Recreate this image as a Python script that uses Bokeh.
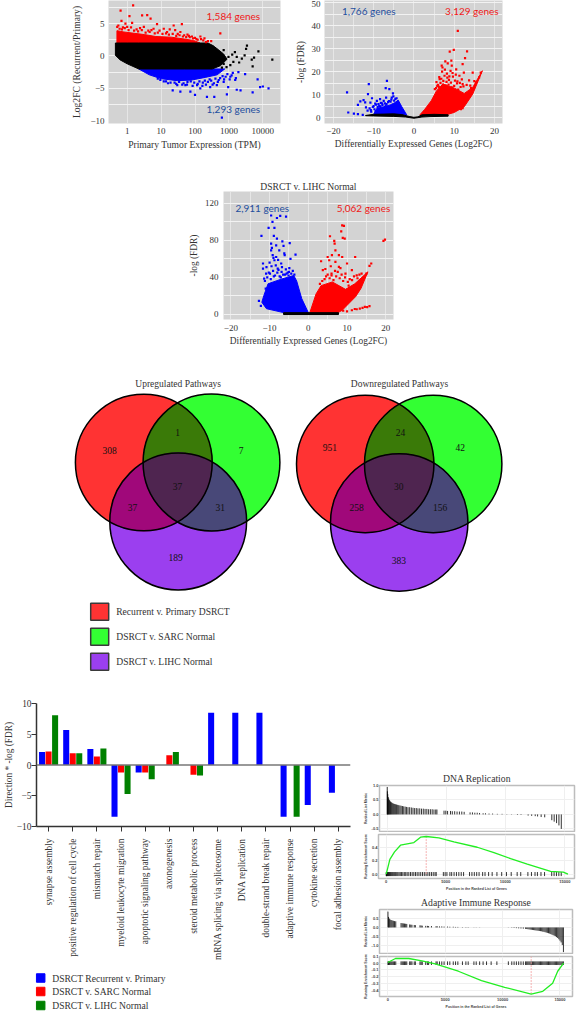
import numpy as np
from bokeh.plotting import figure
from bokeh.layouts import column, row
from bokeh.models import Range1d, FixedTicker, NumeralTickFormatter, FactorRange, Span, Title
from bokeh.core.properties import value
from bokeh.embed import file_html
from bokeh.resources import INLINE
from bokeh.transform import dodge

SERIF = "Liberation Serif"
SANS = "Lato"
TXT = "#333333"
GREY = "#D3D3D3"

# ---------- Panel A: expression vs fold change
a_black_mass_tpm = [0.45, 0.45, 0.62, 1.0, 2.2, 10, 100, 240, 340, 480, 700, 880, 560, 320, 150]
a_black_mass_fc = [0.1, 2.0, 2.0, 2.0, 2.0, 2.0, 2.0, 2.0, 1.6, 1.0, 0.3, -0.5, -1.5, -2.0, -2.0]
a_black_low_tpm = [150, 50, 10, 2.2, 1.0, 0.62, 0.45]
a_black_low_fc = [-2.0, -2.0, -2.0, -2.0, -1.2, -0.6, 0.1]
a_red_mass_tpm = [0.5, 0.5, 0.8, 1.6, 3.2, 7, 20, 50, 90, 140, 90, 0.5]
a_red_mass_fc = [2.0, 3.9, 3.7, 3.5, 3.3, 3.0, 2.9, 2.6, 2.4, 2.0, 2.0, 2.0]
a_blue_mass_tpm = [2.2, 4.5, 10, 30, 80, 200, 450, 750, 600, 200, 50, 10]
a_blue_mass_fc = [-2.0, -2.9, -3.5, -3.8, -3.7, -3.3, -2.9, -2.0, -2.0, -2.0, -2.0, -2.0]
a_red_tpm = [0.64, 1.5, 1.17, 2.76, 3.9, 4.9, 0.51, 0.68, 0.89, 1.4, 7.6, 23.5, 41, 557, 144, 210, 81, 26, 37, 12, 6, 3.1, 0.55, 0.75, 1.0, 1.9, 2.4, 4.2, 5.2, 9, 15, 18, 31, 48, 60, 70, 100, 120, 175, 240,
             0.6, 0.7, 0.85, 1.1, 1.3, 1.6, 2.1, 2.7, 3.5, 4.6, 6.5, 8, 11, 14, 17, 22, 28, 35, 44, 55, 66, 88, 110, 150, 190, 300]
a_red_fc = [7.0, 7.8, 6.15, 6.25, 6.3, 5.75, 4.5, 5.4, 5.0, 5.1, 4.9, 4.7, 4.9, 3.5, 3.0, 2.15, 3.0, 4.0, 3.7, 4.2, 4.2, 4.5, 4.7, 4.4, 4.5, 4.1, 4.3, 3.9, 4.0, 3.9, 3.7, 4.1, 3.4, 3.2, 3.3, 2.9, 2.8, 2.5, 2.4, 2.3,
            4.2, 4.1, 4.3, 4.0, 4.4, 3.9, 3.8, 4.0, 3.6, 3.7, 3.5, 3.6, 3.4, 3.5, 3.3, 3.4, 3.1, 3.2, 3.0, 2.9, 3.1, 2.7, 2.6, 2.6, 2.7, 2.3]
a_blue_tpm = [620, 14700, 8300, 10000, 7000, 5000, 3000, 2200, 1700, 870, 370, 225, 100, 73, 37, 22, 143, 280, 440, 700, 1100, 1530, 52, 30, 12, 16, 25, 42, 60, 85, 120, 170, 210, 300, 360, 500, 800, 950, 1300, 1900,
              8, 9.5, 14, 19, 28, 34, 46, 58, 75, 95, 115, 135, 165, 195, 240, 270, 330, 400, 470, 550, 650, 720, 900, 1050, 1200, 1600]
a_blue_fc = [-9.5, -5.0, -4.8, -4.7, -3.6, -5.6, -2.8, -5.3, -5.2, -5.9, -6.3, -6.3, -6.0, -5.5, -5.5, -5.3, -5.0, -4.8, -4.5, -4.0, -3.2, -3.7, -4.5, -4.5, -3.9, -4.2, -4.1, -4.4, -4.0, -4.6, -4.3, -4.1, -4.4, -3.8, -4.2, -3.7, -3.2, -4.8, -2.6, -2.5,
             -3.5, -3.7, -3.9, -4.1, -4.3, -4.0, -4.2, -4.4, -3.9, -4.1, -4.5, -3.9, -4.6, -3.8, -4.0, -3.6, -4.4, -3.5, -4.0, -3.4, -3.1, -3.6, -2.8, -3.6, -3.0, -3.4]
a_black_tpm = [19000, 7400, 3400, 3200, 5500, 4700, 5000, 2400, 1500, 1350, 970, 700, 500, 1700, 1100, 700, 400, 350, 250, 300, 180, 1250, 850, 620, 2000, 2900]
a_black_fc = [-0.55, 0.7, 1.6, 1.1, -0.25, -0.55, -1.6, -0.4, 0.6, -0.9, -0.15, 0.9, 0.35, -0.15, -1.4, -1.2, -1.4, -0.7, -1.2, 0.6, 1.5, 0.2, -1.7, -1.8, -1.0, 0.1]

# ---------- Panel B: volcano DSRCT v. SARC
b_black_x = [-12, -10, -5, -3, -1, 0, 1, 2, 5, 8.5, 8.5, 4, 2, 0, -2, -5, -10, -12]
b_black_y = [0.9, 1.4, 1.6, 1.3, 0.4, 0.1, 0.3, 1.2, 1.4, 1.2, 0.6, 0.4, 0.2, -0.3, 0.2, 0.5, 0.7, 0.8]
b_blue_mass_x = [-10, -9.2, -7.5, -5.9, -4.7, -3.9, -3, -1.8, -3, -6, -10]
b_blue_mass_y = [1.4, 4, 4.7, 5.5, 6.5, 7.6, 4.7, 1.2, 1.2, 1.4, 1.4]
b_red_mass_x = [1.5, 2.7, 4.3, 5.6, 7.2, 10.1, 12.5, 14.6, 17, 14.6, 12.5, 10, 7.6, 4]
b_red_mass_y = [1.2, 3.6, 7.3, 11.6, 14.6, 12.8, 10.5, 13.1, 20.4, 10.2, 4.7, 2.2, 1.0, 1.2]
b_blue_x = [-16.6, -16.3, -14.9, -13.9, -13.9, -12.5, -11.2, -11.4, -10.4, -11.9, -12.7, -6.7, -7, -6.1, -5.2, -5.5, -6.9, -9.2, -10, -11, -8.4, -7.5, -8.8, -10.8, -5.1, -4.6, -6.2, -7.9, -9.6, -12.1, -13.3,
            -10.7, -10.2, -9.8, -9.4, -9, -8.6, -8.2, -7.8, -7.2, -6.8, -6.4, -5.8, -4.9, -4.3, -11.5, -10.6, -9.5, -8.3, -7, -5.6]
b_blue_y = [11, 2.2, 1.7, 1.5, 5.5, 7.6, 14.6, 10.2, 8.4, 4.4, 1.2, 16, 12.8, 12.4, 10.5, 8.7, 8.7, 7.3, 5, 4, 8, 7.3, 5.8, 6.5, 9.2, 8.1, 7.2, 6.2, 6.1, 6.6, 7,
            3.2, 4.6, 3.6, 5.6, 4.5, 5.1, 6.4, 5.4, 6.2, 5.9, 6.7, 6.9, 7.4, 8.4, 3, 2.6, 2.8, 4.9, 5.2, 7.8]
b_red_x = [10.9, 9.9, 8.9, 13.2, 12.7, 7.8, 8.4, 9.4, 12.1, 10.5, 14.6, 12.4, 11.3, 7, 7.6, 9.7, 6.4, 16.6, 16.2, 15.4, 14.2, 12.1, 10, 11.7, 8.9, 12.1, 6, 6.6, 7.3, 8.1, 8.7, 9.2, 10.2, 11, 5.5, 6.2, 7.2, 7.9, 8.6, 9.4,
           5.2, 5.8, 6.3, 6.8, 7.1, 7.7, 8.2, 8.8, 9.1, 9.6, 10.4, 10.8, 11.4, 11.9, 12.3, 13.1, 13.7, 14, 15, 5.6, 6.9, 8.3, 9.3, 10.7, 11.6]
b_red_y = [37.8, 29.5, 28.7, 28.8, 25.9, 24.5, 23.6, 22.6, 23.3, 21, 19.6, 19.6, 18.2, 20, 18.2, 17.8, 16.7, 19.6, 17.5, 15.3, 12.8, 14.6, 13.8, 3.6, 2.2, 4.1, 14.2, 15.1, 16, 15.5, 16.4, 15.2, 16.1, 12.2, 12.8, 13.4, 14.4, 13.9, 14.3, 13.2,
           12.4, 13.8, 17.6, 16.9, 21.8, 20.9, 19.1, 17.9, 20.3, 19.4, 18.7, 15.8, 15.1, 16.6, 13.6, 14.2, 16.2, 13.9, 15.9, 15.4, 22.6, 17.4, 24.8, 14.9, 13.3]

# ---------- Panel C: volcano DSRCT v. LIHC
c_black_x = [-6.4, 7.8, 7.8, -6.4]
c_black_y = [1.7, 1.7, -0.3, -0.3]
c_blue_mass_x = [0, -6.4, -10.8, -12, -11.5, -10.4, -7, -3.75, -3, -1.7]
c_blue_mass_y = [1.8, 1.8, 6, 13, 20, 33, 38, 42, 36, 17]
c_red_mass_x = [0.4, 2, 3.3, 6.2, 9.6, 12, 15.4, 13.6, 12.2, 8.75, 7.7]
c_red_mass_y = [1.8, 22, 31, 35, 27, 33, 46, 28, 19, 4.3, 1.8]
c_blue_x = [-9.6, -7.25, -5.75, -8.1, -9.25, -10.25, -8.75, -12.1, -8.9, -8.1, -6.7, -4.8, -9.6, -8.3, -6.4, -9.6, -7.5, -3.3, -6.1, -9.2, -8.3, -11.7, -10, -8.75, -7, -4.6, -11.7, -10.8, -7.9, -5.8, -12.75, -12.25, -11.4, -11, -9.4, -6.2, -7.8, -9, -4.9, -10.2,
            -9.9, -9.1, -8.6, -8, -7.4, -6.9, -6.5, -5.6, -5, -4.4, -4, -3.6, -10.6, -11.2, -9.5, -7.7, -6, -5.3, -8.4, -7.1, -10.9, -9.7, -8.9, -6.8, -5.1]
c_blue_y = [107, 106.5, 105.8, 104.3, 100, 93.5, 93.5, 85, 85, 82, 79, 77, 76.5, 74.7, 74, 69.3, 69.3, 64.6, 64, 64, 62, 55, 56, 58.5, 55, 60, 49.5, 51, 49.5, 48.7, 14.4, 9, 38.6, 27.8, 72, 66, 59, 61, 50, 45,
            44, 47, 42, 45, 41, 46, 43, 44, 46, 44, 47, 43, 40, 36, 52, 48, 43, 45, 53, 40, 44, 38, 41, 51, 42]
c_red_x = [8.75, 9.2, 5.6, 8.5, 6.7, 6.8, 8.9, 9.4, 19.8, 19.4, 7, 6.1, 5, 7.9, 8.75, 12.1, 16.25, 15.8, 5.4, 7, 10, 7.9, 11.25, 13.75, 15, 12.5, 3.3, 3.75, 9.6, 14.6, 15.8, 13.3, 11.25, 10, 12.5, 15.2, 14, 12, 9, 6,
           3, 3.6, 4.2, 4.6, 5, 5.5, 6, 6.5, 7.2, 7.6, 8.1, 8.6, 9, 9.5, 10.2, 10.7, 11.3, 11.8, 12.7, 13.2, 4.4, 5.8, 6.9, 8.3, 10.4]
c_red_y = [96.4, 95.7, 84.5, 89.9, 79.4, 76.5, 82.7, 82, 80.9, 79.4, 69.3, 64, 62, 64, 62, 62, 55, 52.3, 58.5, 56.7, 55, 51.3, 47.7, 44, 44, 42.2, 57.4, 47.7, 44, 8, 8.7, 6.1, 4.3, 3.2, 5.4, 7.8, 7, 5.7, 3.8, 44,
           33, 36, 38, 41, 43, 39, 42, 37, 41, 46, 39, 43, 36, 40, 35, 38, 37, 41, 39, 43, 49, 52, 47, 50, 31]

# ---------- Venn
venn_up = [308, 1, 7, 37, 37, 31, 189]
venn_down = [951, 24, 42, 30, 258, 156, 383]
venn_legend = ["Recurrent v. Primary DSRCT", "DSRCT v. SARC Normal", "DSRCT v. LIHC Normal"]

# ---------- Bars
terms = ["synapse assembly", "positive regulation of cell cycle", "mismatch repair",
         "myeloid leukocyte migration", "apoptotic signaling pathway", "axonogenesis",
         "steroid metabolic process", "mRNA splicing via spliceosome", "DNA replication",
         "double-strand break repair", "adaptive immune response", "cytokine secretion",
         "focal adhesion assembly"]
bar_recurrent = [2.1, 5.7, 2.6, -8.4, -1.2, 0, 0, 8.5, 8.5, 8.5, -8.4, -6.5, -4.5]
bar_sarc = [2.2, 1.9, 1.4, -1.2, -1.2, 1.6, -1.6, 0, 0, 0, 0, 0, 0]
bar_lihc = [8.1, 1.9, 2.7, -4.7, -2.3, 2.1, -1.7, 0, 0, 0, -8.4, 0, 0]
bar_legend = ["DSRCT Recurrent v. Primary", "DSRCT v. SARC Normal", "DSRCT v. LIHC Normal"]

# ---------- GSEA
dna_rank = [5,20,50,90,130,180,230,290,350,420,490,560,640,720,800,890,980,1080,1180,1290,1400,1520,1640,1760,1900,2040,2180,2320,2460,2600,2750,2900,3050,3200,3350,3500,3650,3800,3950,4100,4200,4800,4950,5100,5350,5500,5700,5900,6100,6300,6500,7000,7200,7400,7600,7800,8100,8300,8600,8900,9300,9700,10100,10500,11000,11300,11900,12200,12500,12700,13000,13300,13900,14100,14300,14500,14700]
dna_metric = [.95,.8,.7,.6,.55,.5,.47,.44,.42,.4,.38,.37,.36,.35,.34,.33,.32,.31,.3,.29,.28,.27,.26,.25,.25,.24,.23,.22,.22,.21,.21,.2,.2,.19,.19,.18,.18,.18,.17,.17,.17,.13,.13,.12,.12,.11,.11,.1,.1,.1,.09,.07,.07,.06,.06,.05,.04,.04,.03,.03,.02,.02,.01,-.01,-.02,-.02,-.04,-.05,-.06,-.07,-.09,-.1,-.2,-.25,-.3,-.38,-.5]
dna_es_rank = [0,308,700,1200,2325,2885,3360,4425,5686,7647,9050,10450,11850,13810,14875,15266]
dna_es = [0,.22,.33,.43,.47,.55,.56,.54,.48,.40,.32,.23,.15,.04,.03,0]
imm_rank = [10,60,130,200,290,380,480,580,690,1150,1250,1350,1450,1550,1650,1900,2000,2100,2300,2400,2800,2900,3000,3300,3450,3550,3800,4200,4300,4500,4700,4900,5200,5400,5700,5900,6100,6500,6800,7000,7500,7700,8000,8300,8600,9000,9500,10500,10800,11000,11200,11400,11600,11800,12000,12100,12200,12300,12400,12500,12600,12700,12800,12900,13000,13100,13200,13300,13400,13500,13600,13700,13800,13900,14000,14100,14200,14300,14400,14500,14600,14700,14800,14900,15000,15100,15200,15300]
imm_metric = [.9,.6,.5,.45,.42,.4,.38,.36,.35,.25,.24,.23,.22,.21,.2,.17,.16,.15,.14,.13,.12,.11,.1,.09,.09,.08,.08,.07,.07,.06,.06,.05,.05,.04,.04,.03,.03,.02,.02,.02,.01,.01,.01,0,0,0,0,-.01,-.02,-.03,-.04,-.05,-.06,-.07,-.08,-.09,-.1,-.11,-.12,-.13,-.14,-.15,-.16,-.17,-.18,-.19,-.2,-.21,-.22,-.24,-.25,-.27,-.29,-.31,-.33,-.35,-.38,-.41,-.44,-.47,-.5,-.55,-.6,-.67,-.75,-.85,-1.0,-1.4]
imm_es_rank = [0,663,1817,2970,4125,6143,8160,10180,12490,13500,14360,14800,15316]
imm_es = [.01,.07,.07,.035,-.01,-.12,-.26,-.36,-.46,-.42,-.30,-.12,0]


def mk(w, h, l, r, t, b, xr, yr, bg=GREY, **kw):
    p = figure(width=w, height=h, x_range=xr, y_range=yr, min_border_left=l, min_border_right=r,
               min_border_top=t, min_border_bottom=b, output_backend="svg", toolbar_location=None,
               background_fill_color=bg, border_fill_color=None, outline_line_color=None,
               frame_align=False, **kw)
    return p


def style_axes(p, xticks, yticks, xlabel, ylabel, xstand=2, ystand=3, size="9px", lab_size="9.6px", tick_st=4):
    for ax, ticks, lab, st in ((p.xaxis[0], xticks, xlabel, xstand), (p.yaxis[0], yticks, ylabel, ystand)):
        ax.ticker = FixedTicker(ticks=ticks)
        ax.axis_label = lab
        ax.axis_label_standoff = st
        ax.axis_label_text_font = SERIF
        ax.axis_label_text_font_style = "normal"
        ax.axis_label_text_font_size = lab_size
        ax.axis_label_text_color = TXT
        ax.major_label_text_font = SERIF
        ax.major_label_text_font_size = size
        ax.major_label_text_color = TXT
        ax.axis_line_color = None
        ax.major_tick_line_color = None
        ax.minor_tick_line_color = None
        ax.major_tick_out = 0
        ax.major_tick_in = 0
        ax.major_label_standoff = tick_st


def grids(p, xt, yt):
    p.xgrid[0].ticker = FixedTicker(ticks=xt)
    p.ygrid[0].ticker = FixedTicker(ticks=yt)
    p.xgrid[0].grid_line_color = "#E6E6E6"
    p.ygrid[0].grid_line_color = "#F2F2F2"
    p.xgrid[0].grid_line_width = 1
    p.ygrid[0].grid_line_width = 1


def dots(p, x, y, color, size=2.2):
    p.scatter(x, y, size=size, color=color, line_color=None, marker="square")


def note(p, x, y, s, color):
    p.text([x], [y], [s], text_font=value(SANS), text_font_size="10px", text_color=color,
           text_align="center", text_baseline="middle")


RED, BLUE, BLACK = "#FF0000", "#0000FF", "#000000"
TXT_RED, TXT_BLUE = "#F01818", "#1F4E9E"

# Panel A
pa = mk(252, 160, 68, 12, 0, 37, Range1d(10 ** -0.55, 10 ** 4.52), Range1d(-10.4, 8.55), x_axis_type="log")
style_axes(pa, [1, 10, 100, 1000, 10000], [-10, -5, 0, 5], "Primary Tumor Expression (TPM)", "Log2FC (Recurrent/Primary)", ystand=5)
pa.xaxis[0].formatter = NumeralTickFormatter(format="0")
grids(pa, [1, 10, 100, 1000, 10000], [-7.5, -5, -2.5, 0, 2.5, 5, 7.5])
pa.patch(a_red_mass_tpm, a_red_mass_fc, color=RED, line_color=RED)
pa.patch(a_blue_mass_tpm, a_blue_mass_fc, color=BLUE, line_color=BLUE)
pa.patch(a_black_mass_tpm + a_black_low_tpm, a_black_mass_fc + a_black_low_fc, color=BLACK)
dots(pa, a_red_tpm, a_red_fc, RED)
dots(pa, a_blue_tpm, a_blue_fc, BLUE)
dots(pa, a_black_tpm, a_black_fc, BLACK)
note(pa, 10 ** 3.13, 6.2, "1,584 genes", TXT_RED)
note(pa, 10 ** 3.13, -8.2, "1,293 genes", TXT_BLUE)
pa.margin = (0, 0, 0, 40)

# Panel B
pb = mk(228, 160, 30, 18, 0, 37, Range1d(-22.2, 22), Range1d(-2.6, 51))
style_axes(pb, [-20, -10, 0, 10, 20], [0, 10, 20, 30, 40, 50], "Differentially Expressed Genes (Log2FC)", "-log (FDR)",
           lab_size="9.4px")
grids(pb, [-20, -15, -10, -5, 0, 5, 10, 15, 20], [0, 5, 10, 15, 20, 25, 30, 35, 40, 45, 50])
pb.patch(b_blue_mass_x, b_blue_mass_y, color=BLUE)
pb.patch(b_red_mass_x, b_red_mass_y, color=RED)
pb.patch(b_black_x, b_black_y, color=BLACK)
dots(pb, b_blue_x, b_blue_y, BLUE)
dots(pb, b_red_x, b_red_y, RED)
note(pb, -11.2, 46.3, "1,766 genes", TXT_BLUE)
note(pb, 14.4, 46.3, "3,129 genes", TXT_RED)

# Panel C
pc = mk(225, 200, 32, 17, 31, 41, Range1d(-21.9, 22), Range1d(-5.7, 133))
style_axes(pc, [-20, -10, 0, 10, 20], [0, 40, 80, 120], "Differentially Expressed Genes (Log2FC)", "-log (FDR)",
           lab_size="9.4px", tick_st=5)
grids(pc, [-20, -15, -10, -5, 0, 5, 10, 15, 20], [0, 20, 40, 60, 80, 100, 120])
pc.patch(c_blue_mass_x, c_blue_mass_y, color=BLUE)
pc.patch(c_red_mass_x, c_red_mass_y, color=RED)
pc.patch(c_black_x, c_black_y, color=BLACK)
dots(pc, c_blue_x, c_blue_y, BLUE)
dots(pc, c_red_x, c_red_y, RED)
note(pc, -11.9, 115.6, "2,911 genes", TXT_BLUE)
note(pc, 14.25, 115.6, "5,062 genes", TXT_RED)
pc.add_layout(Title(text="DSRCT v. LIHC Normal", text_font=SERIF, text_font_size="9.6px",
                    text_font_style="normal", text_color=TXT, align="center", standoff=0), "above")
pc.margin = (0, 0, 0, 185)


def lens(circles):
    """Outline of the area shared by the given circles (cx, cy, r)."""
    pts = []
    for i, (cx, cy, r) in enumerate(circles):
        t = np.linspace(0, 2 * np.pi, 721)
        px, py = cx + r * np.cos(t), cy + r * np.sin(t)
        keep = np.ones_like(t, dtype=bool)
        for j, (ox, oy, orr) in enumerate(circles):
            if j != i:
                keep &= (px - ox) ** 2 + (py - oy) ** 2 <= orr ** 2 + 0.01
        pts.append(np.column_stack([px[keep], py[keep]]))
    pts = np.vstack(pts)
    c = pts.mean(axis=0)
    order = np.argsort(np.arctan2(pts[:, 1] - c[1], pts[:, 0] - c[0]))
    return pts[order, 0], pts[order, 1]


def venn(x0, title, tx, circles, counts, lx, ly, with_legend=False):
    w = 240
    p = mk(w, 330, 0, 0, 0, 0, Range1d(x0, x0 + w), Range1d(690, 360), bg=None)
    p.xaxis.visible = False
    p.yaxis.visible = False
    p.grid.visible = False
    R, G, P = circles
    for c, col in zip(circles, ["#FF3333", "#33FF33", "#9B3FEF"]):
        p.circle([c[0]], [c[1]], radius=c[2], fill_color=col, line_color=None)
    for pair, col in (((R, G), "#3A7A08"), ((R, P), "#A0087A"), ((G, P), "#484878"), ((R, G, P), "#4F2550")):
        xs, ys = lens(pair)
        p.patch(xs, ys, color=col, line_color=col)
    for c in circles:
        p.circle([c[0]], [c[1]], radius=c[2], fill_color=None, line_color="#000000", line_width=1.5)
    p.text(lx, ly, [str(v) for v in counts], text_font=value(SERIF), text_font_size="9.5px", text_color="#111111",
           text_align="center", text_baseline="middle")
    p.text([tx], [383], [title], text_font=value(SERIF), text_font_size="9.5px", text_color=TXT,
           text_align="center", text_baseline="middle")
    if with_legend:
        for lab, col, yy in zip(venn_legend, ["#FF3333", "#33FF33", "#9B3FEF"], [611.3, 636.3, 661.3]):
            p.rect([99.2], [yy], width=18, height=17, fill_color=col, line_color="#3A3A3A", line_width=1.5)
            p.text([115.7], [yy], [lab], text_font=value(SERIF), text_font_size="9.6px", text_color=TXT,
                   text_baseline="middle")
    return p


pv1 = venn(50, "Upregulated Pathways", 177.7,
           [(143.3, 462, 68.4), (211, 462, 68.4), (177.7, 521, 68.4)], venn_up,
           [109, 177, 240.7, 177, 132, 219.7, 175], [450, 432, 450, 485.7, 507, 507, 557], True)
pv2 = venn(290, "Downregulated Pathways", 399,
           [(364.7, 463.5, 68.7), (432.7, 463.5, 68.7), (398.7, 522, 68.7)], venn_down,
           [329.3, 400, 459.7, 398.3, 356, 439.7, 398.3], [447, 431.7, 447, 485.7, 507, 507, 560.3])
pv1.margin = (0, 0, 0, 50)

# Bars
pbar = mk(360, 275, 36, 10, 13, 139, FactorRange(factors=terms, range_padding=0, factor_padding=0), Range1d(-10, 10), bg=None)
pbar.grid.visible = False
src = dict(term=terms, rec=bar_recurrent, sarc=bar_sarc, lihc=bar_lihc)
W = 0.25
pbar.vbar(x=dodge("term", -0.27, range=pbar.x_range), top="rec", width=W, fill_color="#0000FF", line_color=None, source=src)
pbar.vbar(x=dodge("term", 0.0, range=pbar.x_range), top="sarc", width=W, fill_color="#FF0000", line_color=None, source=src)
pbar.vbar(x=dodge("term", 0.27, range=pbar.x_range), top="lihc", width=W, fill_color="#008000", line_color=None, source=src)
pbar.add_layout(Span(location=0, dimension="width", line_color="#777777", line_width=1.5))
ax = pbar.yaxis[0]
ax.ticker = FixedTicker(ticks=[-10, -5, 0, 5, 10])
ax.axis_label = "Direction * -log (FDR)"
ax.axis_label_standoff = 0
for a in (pbar.xaxis[0], pbar.yaxis[0]):
    a.axis_line_color = TXT
    a.axis_line_width = 1.5
    a.major_tick_line_color = TXT
    a.major_tick_line_width = 1
    a.major_tick_out = 5
    a.major_tick_in = 0
    a.minor_tick_line_color = None
    a.major_label_text_font = SERIF
    a.major_label_text_font_size = "9.4px"
    a.major_label_text_color = TXT
    a.axis_label_text_font = SERIF
    a.axis_label_text_font_size = "9.3px"
    a.axis_label_text_font_style = "normal"
    a.axis_label_text_color = TXT
    a.major_label_standoff = 0
pbar.xaxis[0].major_label_orientation = np.pi / 2
pbar.xaxis[0].major_label_standoff = 7

pleg = mk(360, 47, 0, 0, 0, 0, Range1d(0, 360), Range1d(1012, 965), bg=None)
pleg.xaxis.visible = False
pleg.yaxis.visible = False
pleg.grid.visible = False
for lab, col, yy in zip(bar_legend, ["#0000FF", "#FF0000", "#008000"], [977.5, 991, 1005]):
    pleg.rect([40.2], [yy], width=8.5, height=8.5, color=col)
    pleg.text([51.7], [yy], [lab], text_font=value(SERIF), text_font_size="9.6px", text_color=TXT, text_baseline="middle")


def gsea(h, l, r, t, b, xr, yr, yticks, xticks, ylabel, xlabel=None, title=None):
    p = mk(218, h, l, r, t, b, Range1d(*xr), Range1d(*yr), bg="#FFFFFF")
    p.outline_line_color = "#BDBDBD"
    p.outline_line_width = 1.5
    p.xgrid[0].ticker = FixedTicker(ticks=xticks)
    p.ygrid[0].ticker = FixedTicker(ticks=yticks)
    p.grid.grid_line_color = "#EFEFEF"
    for a, ticks in ((p.xaxis[0], xticks), (p.yaxis[0], yticks)):
        a.ticker = FixedTicker(ticks=ticks)
        a.axis_line_color = None
        a.major_tick_line_color = None
        a.minor_tick_line_color = None
        a.major_tick_out = 0
        a.major_tick_in = 0
        a.major_label_text_font = "Liberation Sans"
        a.major_label_text_font_style = "bold"
        a.major_label_text_font_size = "4px"
        a.major_label_text_color = "#444444"
        a.major_label_standoff = 1
        a.axis_label_text_font = "Liberation Sans"
        a.axis_label_text_font_style = "bold"
        a.axis_label_text_font_size = "3.5px"
        a.axis_label_text_color = "#444444"
        a.axis_label_standoff = 1
    p.yaxis[0].axis_label = ylabel
    p.yaxis[0].formatter = NumeralTickFormatter(format="0.0")
    if xlabel:
        p.xaxis[0].axis_label = xlabel
    else:
        p.xaxis.visible = False
    if title:
        p.add_layout(Title(text=title, text_font=SERIF, text_font_size="9.7px", text_font_style="normal",
                           text_color=TXT, align="center", standoff=3), "above")
    return p


XT = [0, 5000, 10000, 15000]
XL = "Position in the Ranked List of Genes"
RM, ES = "Ranked List Metric", "Running Enrichment Score"
BAR = "#000000"
# frame x: 378..574 in a column that starts at 360
g1 = gsea(64, 18, 4, 17, 1, (-647, 15815), (-0.59, 1.0), [-0.5, 0, 0.5, 1.0], XT, RM, title="DNA Replication")
g1.segment(dna_rank, 0, dna_rank, dna_metric, line_color=BAR, line_width=1, line_alpha=0.8)
g2 = gsea(61, 18, 4, 2, 13, (-647, 15815), (-0.066, 0.59), [0, 0.2, 0.4], XT, ES, xlabel=XL)
g2.segment(dna_rank, -0.03, dna_rank, 0.03, line_color=BAR, line_width=1, line_alpha=0.8)
g2.segment([3360], [0], [3360], [0.56], line_color="#F4A0A0", line_width=0.8, line_dash="2 1")
g2.line(dna_es_rank, dna_es, line_color="#22EE22", line_width=1.3)
g3 = gsea(61, 17, 6, 16, 1, (-727, 16090), (-1.48, 1.02), [-1.0, -0.5, 0, 0.5], XT, RM, title="Adaptive Immune Response")
g3.segment(imm_rank, 0, imm_rank, imm_metric, line_color=BAR, line_width=1, line_alpha=0.8)
g4 = gsea(57, 17, 6, 2, 11, (-727, 16090), (-0.497, 0.1), [-0.4, -0.3, -0.2, -0.1, 0, 0.1], XT, ES, xlabel=XL)
g4.segment(imm_rank, -0.027, imm_rank, 0.027, line_color=BAR, line_width=1, line_alpha=0.8)
g4.segment([12490], [-0.46], [12490], [0.1], line_color="#F4A0A0", line_width=0.8, line_dash="2 1")
g4.line(imm_es_rank, imm_es, line_color="#22EE22", line_width=1.3)

left = column(pbar, pleg)
right = column(g1, g2, g3, g4)
right.margin = (78, 0, 0, 0)
root = column(row(pa, pb), pc, row(pv1, pv2), row(left, right))

open("out.html", "w").write(file_html(root, INLINE))
